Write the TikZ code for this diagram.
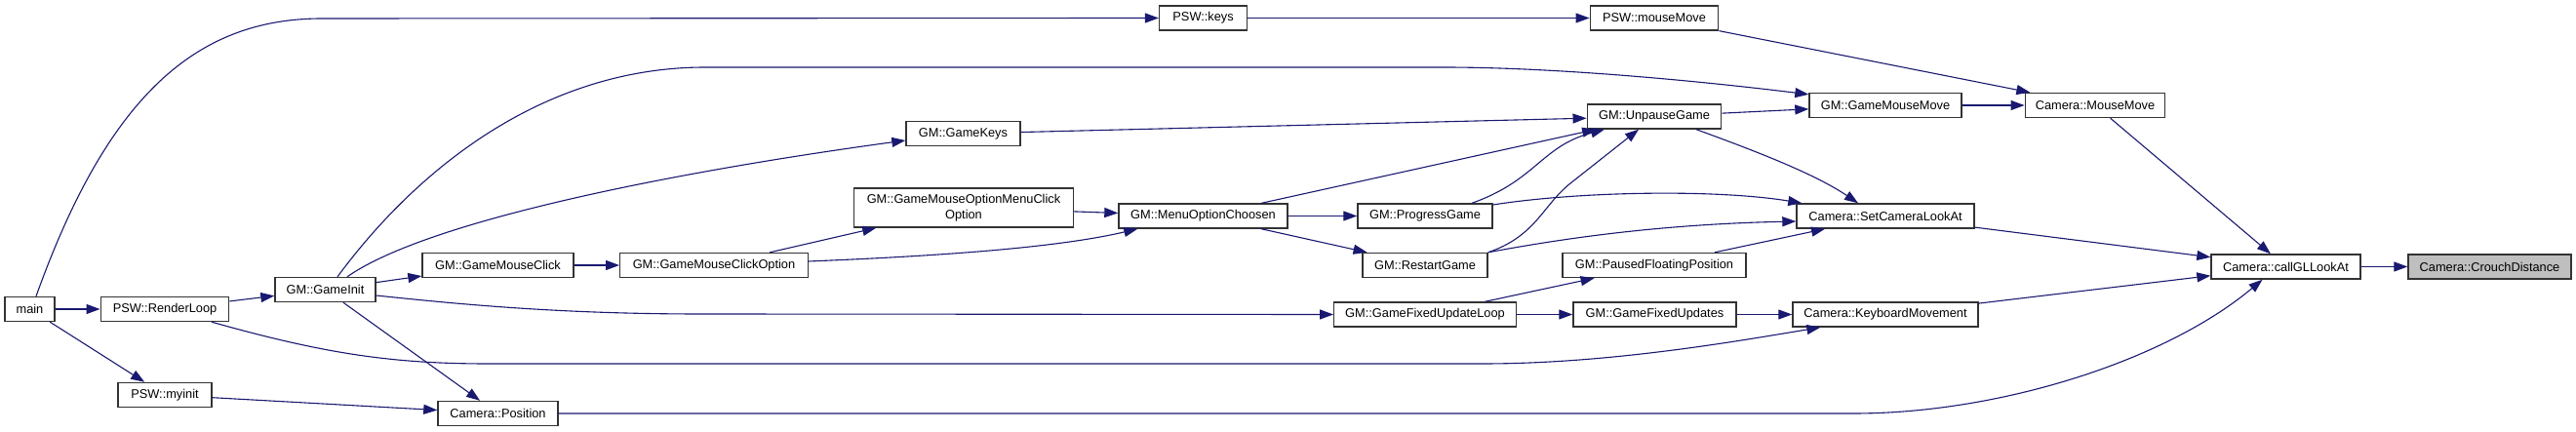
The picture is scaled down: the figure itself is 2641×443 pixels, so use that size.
\documentclass[tikz,border=0pt]{standalone}
\usepackage{fontspec}
\setmainfont{Liberation Sans}
\usetikzlibrary{arrows.meta, calc}
\definecolor{edgeblue}{HTML}{191970}
\definecolor{rootgray}{HTML}{BFBFBF}

\begin{document}
\begin{tikzpicture}[x=0.5pt, y=-0.5pt, >={Triangle[length=7pt, width=5pt]},
    fn/.style={draw=black!80, line width=0.7pt, fill=white, minimum height=12.5pt,
        inner sep=0pt, font=\fontsize{6.4pt}{7.7pt}\selectfont},
    bw/.style={minimum width=#1*0.5pt},
    call/.style={->, draw=edgeblue, line width=0.55pt}]
    \useasboundingbox (0,0) rectangle (2641,443);

    % Funciones
    \node[fn, bw=51] (main) at (30.5,317) {main};
    \node[fn, bw=131.5] (render) at (169,317) {PSW::RenderLoop};
    \node[fn, bw=96] (myinit) at (169,405) {PSW::myinit};
    \node[fn, bw=103] (gameinit) at (333.5,297) {GM::GameInit};
    \node[fn, bw=123] (position) at (510.5,424) {Camera::Position};
    \node[fn, bw=155] (mouseclick) at (510.5,272) {GM::GameMouseClick};
    \node[fn, bw=192.5] (clickoption) at (732,272) {GM::GameMouseClickOption};
    \node[fn, bw=117] (gamekeys) at (987.5,137) {GM::GameKeys};
    \node[fn, bw=224.5, minimum height=20pt, align=center] (menuclick) at (988,213)
        {GM::GameMouseOptionMenuClick\\Option};
    \node[fn, bw=90] (keys) at (1233.6,18.5) {PSW::keys};
    \node[fn, bw=173] (choosen) at (1233.5,221.5) {GM::MenuOptionChoosen};
    \node[fn, bw=131.5] (pswmove) at (1696,18.5) {PSW::mouseMove};
    \node[fn, bw=137.5] (unpause) at (1696,119.5) {GM::UnpauseGame};
    \node[fn, bw=138] (progress) at (1461,221.5) {GM::ProgressGame};
    \node[fn, bw=128] (restart) at (1461,272) {GM::RestartGame};
    \node[fn, bw=186.5] (fixedloop) at (1461,322.5) {GM::GameFixedUpdateLoop};
    \node[fn, bw=188] (paused) at (1696,272) {GM::PausedFloatingPosition};
    \node[fn, bw=167] (fixedupd) at (1696.5,322.5) {GM::GameFixedUpdates};
    \node[fn, bw=156] (gamemove) at (1933,108) {GM::GameMouseMove};
    \node[fn, bw=182] (setlook) at (1933,221.5) {Camera::SetCameraLookAt};
    \node[fn, bw=190] (keyboard) at (1933,322.5) {Camera::KeyboardMovement};
    \node[fn, bw=143.5] (cammove) at (2148,108) {Camera::MouseMove};
    \node[fn, bw=153] (callgl) at (2343.5,273.5) {Camera::callGLLookAt};
    \node[fn, bw=167, fill=rootgray] (crouch) at (2552.5,273.5) {Camera::CrouchDistance};

    % Llamadas
    \draw[call] (main) -- (render);
    \draw[call] (main) -- (myinit);
    \draw[call] ($(main.north)+(6.5,0)$) .. controls (110,100) and (200,19) .. (330,19) -- (keys.west);
    \draw[call] (keys) -- (pswmove);
    \draw[call] (pswmove) -- (cammove);
    \draw[call] (render) -- (gameinit);
    \draw[call] ($(render.south)+(48,0)$) .. controls (330,362) and (400,373) .. (500,373) -- (1520,373)
        .. controls (1650,373) and (1780,350) .. ($(keyboard.south west)+(29,0)$);
    \draw[call] (myinit) -- (position);
    \draw[call] (gameinit) -- (mouseclick);
    \draw[call] (gameinit) -- (position);
    \draw[call] ($(gameinit.north)+(22.5,0)$) .. controls (440,225) and (700,175) .. ($(gamekeys.west)+(0,7)$);
    \draw[call] ($(gameinit.north)+(12.5,0)$) .. controls (430,170) and (560,69) .. (723,69) -- (1480,69)
        .. controls (1600,69) and (1750,84) .. ($(gamemove.north west)+(0,2)$);
    \draw[call] ($(gameinit.east)+(0,6)$) .. controls (480,313) and (580,322) .. (720,322) -- (fixedloop.west);
    \draw[call] (mouseclick) -- (clickoption);
    \draw[call] (clickoption) -- (menuclick);
    \draw[call] ($(clickoption.east)+(0,-4)$) .. controls (950,263) and (1080,255) .. ($(choosen.south west)+(20,0)$);
    \draw[call] (menuclick) -- (choosen);
    \draw[call] (gamekeys) -- (unpause);
    \draw[call] (choosen) -- (unpause);
    \draw[call] (choosen) -- (progress);
    \draw[call] (choosen) -- (restart);
    \draw[call] ($(progress.north)+(48,0)$) .. controls (1575,185) and (1580,150) .. ($(unpause.south)+(-51,0)$);
    \draw[call] ($(progress.east)+(0,-11.5)$) .. controls (1620,196) and (1760,194) .. ($(setlook.north west)+(6,0)$);
    \draw[call] (restart.north east) .. controls (1575,242) and (1582,210) .. (1610,188) -- ($(unpause.south)+(-16,0)$);
    \draw[call] (restart.north east) .. controls (1600,245) and (1700,230) .. ($(setlook.west)+(0,5.5)$);
    \draw[call] (unpause) -- (gamemove);
    \draw[call] ($(unpause.south)+(43,0)$) .. controls (1800,155) and (1860,178) .. ($(setlook.north)+(-28,0)$);
    \draw[call] (paused) -- (setlook);
    \draw[call] (fixedloop) -- (paused);
    \draw[call] (fixedloop) -- (fixedupd);
    \draw[call] (fixedupd) -- (keyboard);
    \draw[call] (gamemove) -- (cammove);
    \draw[call] (cammove) -- (callgl);
    \draw[call] (setlook) -- (callgl);
    \draw[call] (keyboard) -- (callgl);
    \draw[call] (position.east) -- (1900,424) .. controls (2050,424) and (2220,370) .. ($(callgl.south)+(-24,0)$);
    \draw[call] (callgl) -- (crouch);

\end{tikzpicture}
\end{document}
